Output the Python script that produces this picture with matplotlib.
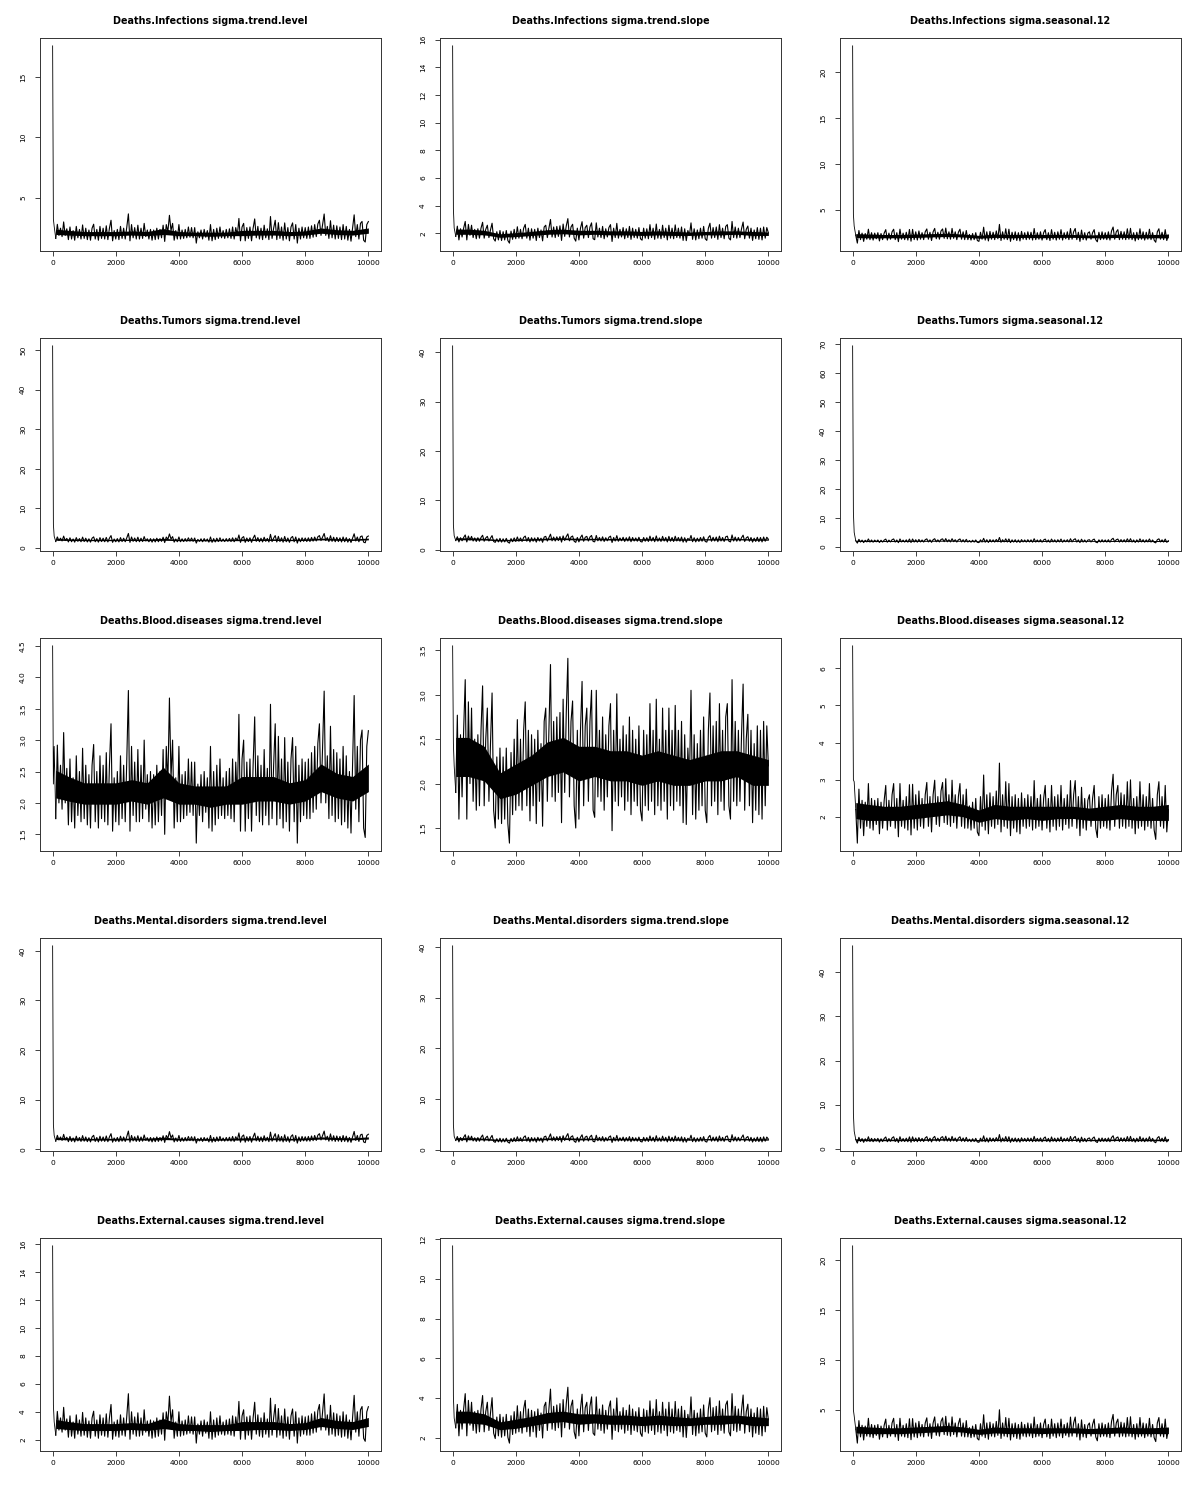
import numpy as np
import matplotlib
matplotlib.use("Agg")
import matplotlib.pyplot as plt

# MCMC trace plots, 5 causes x 3 variance parameters, 10000 draws each

causes = ["Infections", "Tumors", "Blood.diseases", "Mental.disorders", "External.causes"]
params = ["sigma.trend.level", "sigma.trend.slope", "sigma.seasonal.12"]

# burn-in draws (iterations 1, 25, 50) read per panel
burn_iter = [1, 25, 50]
burn_vals = [
    [[17.6, 3.2, 2.6], [15.55, 3.8, 2.4], [22.9, 4.5, 3.2]],
    [[51.0, 6.0, 3.0], [41.3, 5.0, 2.8], [69.5, 12.0, 5.0]],
    [[4.5, 2.3, 2.9], [3.55, 2.45, 2.2], [6.6, 3.0, 2.95]],
    [[41.0, 5.0, 2.8], [40.2, 5.0, 2.7], [46.0, 8.0, 4.0]],
    [[15.85, 4.5, 3.3], [11.65, 4.1, 3.0], [21.4, 5.0, 4.4]],
]

# post burn-in traces (iterations 100..10000 every 50), read off the
# Blood.diseases row where the band is visible; other rows share the shape
level_trace = [
    1.75, 2.92, 2.0, 2.6, 1.9, 3.12, 2.0, 2.55, 1.65, 2.7, 1.7, 2.4, 1.6, 2.75, 1.8, 2.5, 1.7, 2.87,
    1.75, 2.6, 1.65, 2.45, 1.6, 2.6, 2.93, 1.7, 2.5, 1.6, 2.75, 1.75, 2.6, 1.7, 2.8, 1.65, 2.6, 3.26, 1.55, 2.4,
    1.7, 2.5, 1.65, 2.75, 1.75, 2.6, 1.7, 2.7, 3.79, 1.55, 2.9, 1.8, 2.65, 1.7, 2.85, 1.7, 2.6, 1.75, 3.0, 1.9,
    2.45, 1.7, 2.5, 1.6, 2.45, 1.65, 2.6, 1.7, 2.5, 1.8, 2.85, 1.5, 2.9, 2.3, 3.67, 2.4, 3.0, 1.6, 2.4, 1.7,
    2.9, 1.7, 2.45, 1.75, 2.5, 1.8, 2.7, 1.85, 2.65, 1.8, 2.65, 1.36, 2.3, 1.8, 2.45, 1.7, 2.5, 1.85, 2.4, 1.6,
    2.9, 1.55, 2.5, 1.65, 2.6, 1.75, 2.7, 1.8, 2.4, 1.75, 2.5, 1.8, 2.55, 1.75, 2.7, 1.7, 2.65, 2.0, 3.41, 1.55,
    2.7, 3.0, 1.55, 2.65, 1.75, 2.7, 1.55, 2.6, 3.37, 1.8, 2.75, 1.7, 2.6, 1.65, 2.85, 1.8, 2.55, 1.65, 3.57, 1.75,
    2.6, 3.26, 1.65, 3.06, 1.75, 2.7, 1.6, 3.04, 1.7, 2.65, 1.55, 2.7, 3.04, 1.7, 2.9, 1.36, 2.6, 1.7, 2.7, 1.8,
    2.65, 1.75, 2.7, 1.75, 2.8, 1.85, 2.9, 1.9, 2.95, 3.26, 2.0, 2.9, 3.78, 2.0, 2.75, 1.75, 3.22, 1.8, 2.85, 1.7,
    2.8, 1.75, 2.7, 1.65, 2.9, 1.7, 2.75, 1.6, 2.5, 1.52, 2.6, 3.71, 1.9, 2.9, 1.7, 3.0, 3.16, 1.6, 1.45, 2.9, 3.15,
]
slope_trace = [
    1.9, 2.77, 1.6, 2.55, 1.85, 2.6, 3.17, 1.6, 2.92, 2.0, 2.85, 1.8, 2.5, 1.7, 2.55, 1.75, 2.6, 3.1,
    1.75, 2.5, 2.85, 1.8, 2.45, 3.02, 1.7, 1.5, 2.3, 1.6, 2.4, 1.55, 2.3, 1.6, 2.4, 1.55, 1.33, 2.35, 1.65, 2.5,
    1.7, 2.72, 1.75, 2.5, 1.7, 2.6, 2.92, 1.75, 2.6, 1.58, 2.55, 1.75, 2.5, 1.55, 2.6, 1.8, 2.45, 1.52, 2.7, 2.85,
    1.8, 2.6, 3.34, 1.85, 2.7, 1.8, 2.75, 1.9, 2.8, 1.56, 2.95, 1.9, 2.8, 3.41, 1.85, 2.7, 2.93, 1.75, 1.5, 2.6,
    1.6, 2.6, 3.15, 1.75, 2.65, 2.85, 1.8, 2.7, 3.05, 1.7, 1.62, 3.05, 1.85, 2.6, 1.8, 2.75, 1.7, 2.55, 1.85, 2.65,
    2.9, 1.47, 2.6, 1.8, 3.01, 1.75, 2.5, 1.85, 2.65, 1.7, 2.55, 1.8, 2.75, 1.65, 2.6, 1.8, 2.5, 1.75, 2.65, 1.7,
    1.58, 2.6, 1.75, 2.55, 1.7, 2.9, 1.8, 2.6, 1.65, 2.95, 1.75, 2.5, 1.7, 2.85, 1.8, 2.6, 1.6, 2.85, 1.75, 2.6,
    1.7, 2.88, 1.8, 2.6, 1.75, 2.7, 1.56, 2.55, 1.54, 2.4, 2.0, 3.05, 1.65, 2.55, 1.6, 2.45, 1.7, 2.6, 1.75, 2.75,
    1.7, 1.56, 2.6, 3.02, 1.75, 2.65, 1.8, 2.7, 1.65, 2.9, 1.8, 2.6, 1.7, 2.75, 2.9, 1.75, 1.6, 3.17, 1.8, 2.7,
    1.75, 2.6, 1.8, 2.55, 3.12, 1.7, 2.5, 2.78, 1.75, 2.6, 1.56, 2.45, 1.7, 2.65, 1.65, 2.6, 1.6, 2.7, 1.75, 2.65, 2.2,
]
seasonal_trace = [
    2.2, 1.3, 2.75, 1.7, 2.45, 1.5, 2.4, 1.75, 2.9, 1.7, 2.5, 1.65, 2.45, 1.8, 2.5, 1.55, 2.4, 1.7,
    2.45, 2.85, 1.65, 2.45, 1.75, 2.6, 2.9, 1.7, 2.5, 1.47, 2.9, 1.75, 2.45, 1.7, 2.55, 1.65, 2.87, 1.52, 2.88, 1.7,
    2.6, 1.65, 2.7, 1.75, 2.5, 1.7, 2.6, 2.93, 1.75, 2.55, 1.6, 2.6, 2.99, 1.8, 2.55, 1.75, 2.7, 2.93, 1.85, 3.03,
    1.8, 2.6, 1.75, 2.99, 1.85, 2.6, 1.7, 2.55, 2.9, 1.75, 2.6, 1.7, 2.75, 1.7, 2.3, 1.65, 2.4, 1.7, 2.5, 1.6,
    1.5, 2.55, 1.75, 3.13, 1.65, 2.6, 1.55, 2.65, 1.75, 2.55, 1.7, 2.7, 1.8, 3.45, 1.6, 2.6, 1.75, 2.95, 1.7, 2.9,
    1.5, 2.55, 1.7, 2.6, 1.6, 2.5, 1.55, 2.65, 1.75, 2.5, 1.7, 2.6, 1.75, 2.55, 1.65, 2.98, 1.7, 2.5, 1.75, 2.6,
    1.65, 2.5, 2.85, 1.7, 2.5, 1.6, 2.85, 1.75, 2.55, 1.65, 2.6, 1.75, 2.85, 1.65, 2.5, 1.8, 2.6, 1.7, 2.98, 1.75,
    2.6, 2.98, 1.7, 2.55, 1.5, 2.8, 1.7, 2.5, 1.65, 2.45, 2.6, 1.75, 2.5, 2.85, 1.7, 1.45, 2.55, 1.7, 2.6, 1.75,
    2.5, 1.7, 2.6, 1.65, 2.7, 3.15, 1.75, 2.6, 2.85, 1.7, 2.65, 1.75, 2.6, 1.7, 2.95, 1.75, 3.0, 1.7, 2.5, 1.55,
    2.55, 1.7, 2.95, 1.75, 2.6, 1.65, 2.55, 1.75, 2.9, 1.7, 2.5, 1.65, 1.4, 2.6, 2.95, 1.75, 2.55, 1.7, 2.85, 1.6, 2.2,
]
traces = [level_trace, slope_trace, seasonal_trace]
trace_center = [2.2, 2.15, 2.15]

# solid-black core of each band, at iterations 100, 500, 1000, ..., 10000
core_iter = [100] + list(range(500, 10001, 500))
level_core_lo = [2.08, 2.03, 1.98, 1.98, 1.98, 2.03, 1.98, 2.08, 1.98, 1.98, 1.93,
                 1.98, 1.98, 2.03, 2.03, 1.98, 2.03, 2.18, 2.08, 2.03, 2.18]
level_core_hi = [2.52, 2.42, 2.32, 2.32, 2.32, 2.37, 2.32, 2.57, 2.32, 2.27, 2.27,
                 2.27, 2.42, 2.42, 2.42, 2.32, 2.37, 2.62, 2.47, 2.42, 2.62]
slope_core_lo = [2.08, 2.08, 2.03, 1.83, 1.88, 1.98, 2.08, 2.13, 2.03, 2.08, 2.03,
                 2.03, 1.98, 2.03, 1.98, 1.98, 2.03, 2.03, 2.08, 1.98, 1.98]
slope_core_hi = [2.52, 2.52, 2.42, 2.12, 2.22, 2.32, 2.47, 2.52, 2.42, 2.42, 2.37,
                 2.37, 2.32, 2.37, 2.32, 2.27, 2.32, 2.37, 2.37, 2.32, 2.27]
seasonal_core_lo = [1.96, 1.91, 1.91, 1.91, 1.96, 2.01, 2.06, 2.01, 1.86, 1.96, 1.91,
                    1.96, 1.91, 1.96, 1.96, 1.91, 1.91, 1.96, 1.91, 1.91, 1.91]
seasonal_core_hi = [2.39, 2.34, 2.29, 2.29, 2.34, 2.39, 2.44, 2.34, 2.19, 2.34, 2.29,
                    2.29, 2.29, 2.29, 2.29, 2.24, 2.29, 2.34, 2.29, 2.29, 2.34]
cores = [(level_core_lo, level_core_hi), (slope_core_lo, slope_core_hi),
         (seasonal_core_lo, seasonal_core_hi)]

# band centre and band width (relative to the Blood.diseases row) per panel
band_level = [
    [2.05, 2.0, 2.15],
    [2.1, 2.05, 2.05],
    [2.2, 2.15, 2.15],
    [2.1, 2.1, 2.05],
    [3.0, 2.85, 3.0],
]
band_spread = [
    [1.0, 0.85, 0.95],
    [1.0, 0.9, 0.9],
    [1.0, 1.0, 1.0],
    [1.0, 0.9, 0.9],
    [1.45, 1.35, 1.55],
]

yticks = [
    [[5, 10, 15], [2, 4, 6, 8, 10, 12, 14, 16], [5, 10, 15, 20]],
    [[0, 10, 20, 30, 40, 50], [0, 10, 20, 30, 40], [0, 10, 20, 30, 40, 50, 60, 70]],
    [[1.5, 2.0, 2.5, 3.0, 3.5, 4.0, 4.5], [1.5, 2.0, 2.5, 3.0, 3.5], [2, 3, 4, 5, 6]],
    [[0, 10, 20, 30, 40], [0, 10, 20, 30, 40], [0, 10, 20, 30, 40]],
    [[2, 4, 6, 8, 10, 12, 14, 16], [2, 4, 6, 8, 10, 12], [5, 10, 15, 20]],
]
xticks = [0, 2000, 4000, 6000, 8000, 10000]

base_iter = np.arange(100, 10001, 50)

fig = plt.figure(figsize=(12, 15), dpi=100)
W, H = 1200.0, 1500.0
col_left = [40, 440, 840]
row_top = [38, 338, 638, 938, 1238]
pw, ph = 341, 213

for r in range(5):
    for c in range(3):
        ax = fig.add_axes([col_left[c] / W, 1 - (row_top[r] + ph) / H, pw / W, ph / H])
        lev, spr, cen = band_level[r][c], band_spread[r][c], trace_center[c]
        y = lev + spr * (np.array(traces[c]) - cen)
        lo = lev + spr * (np.array(cores[c][0]) - cen)
        hi = lev + spr * (np.array(cores[c][1]) - cen)
        ax.fill_between(core_iter, lo, hi, color="black", lw=0)
        ax.plot(burn_iter + [100], burn_vals[r][c] + [y[0]], color="black", lw=0.6)
        ax.plot(base_iter, y, color="black", lw=0.8)
        ax.margins(x=0.04, y=0.04)

        ax.set_xticks(xticks, [str(t) for t in xticks])
        yt = yticks[r][c]
        if r == 2 and c < 2:
            ylab = ["%.1f" % t for t in yt]
        else:
            ylab = [str(t) for t in yt]
        ax.set_yticks(yt, ylab, rotation=90, va="center")
        ax.tick_params(axis="both", labelsize=5.4, length=3.5, width=0.6, color="#222222")
        ax.tick_params(axis="x", pad=3.0)
        ax.tick_params(axis="y", pad=6.5)
        for sp in ax.spines.values():
            sp.set_linewidth(0.7)
            sp.set_color("#333333")
        ax.set_title("Deaths.%s %s" % (causes[r], params[c]), fontsize=6.9,
                     fontweight="bold", pad=10)

fig.savefig("out.png", dpi=100)
